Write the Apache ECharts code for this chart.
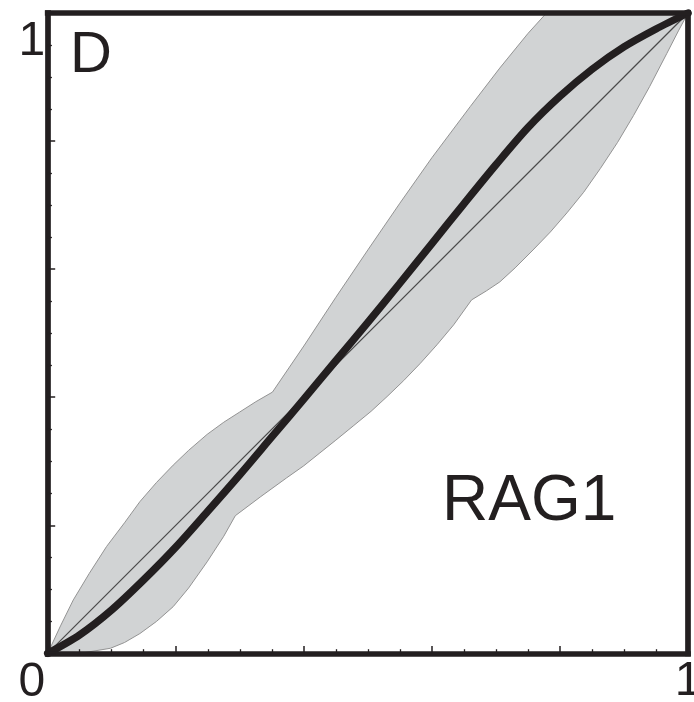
<!DOCTYPE html>
<html>
<head>
<meta charset="utf-8">
<script src="https://cdn.jsdelivr.net/npm/echarts@6/dist/echarts.min.js"></script>
<style>
html,body{margin:0;padding:0;background:#fff;}
#chart{width:694px;height:702px;}
</style>
</head>
<body>
<div id="chart"></div>
<script>
// Tick labels (one per major tick, 0..1 step 0.2)
const xTickLabels = ['', '', '', '', '', '1'];
const yTickLabels = ['0', '', '', '', '', '1'];

// Thick fitted curve
const curveX = [0, 0.05, 0.10, 0.15, 0.20, 0.25, 0.30, 0.35, 0.40, 0.45, 0.50, 0.55, 0.60, 0.65, 0.70, 0.75, 0.80, 0.85, 0.90, 0.95, 1.0];
const curveY = [0, 0.029, 0.068, 0.115, 0.166, 0.222, 0.279, 0.338, 0.397, 0.457, 0.517, 0.578, 0.640, 0.702, 0.763, 0.821, 0.870, 0.912, 0.947, 0.975, 1.0];

// Reference diagonal
const diagX = [0, 1];
const diagY = [0, 1];

// Confidence band: upper boundary
const upperX = [0, 0.02, 0.04, 0.065, 0.092, 0.12, 0.144, 0.17, 0.196, 0.22, 0.249, 0.275, 0.30, 0.325, 0.351, 0.40, 0.45, 0.50, 0.55, 0.60, 0.66, 0.706, 0.75, 0.779, 1.0];
const upperY = [0, 0.043, 0.0835, 0.125, 0.167, 0.204, 0.237, 0.267, 0.294, 0.317, 0.342, 0.361, 0.377, 0.393, 0.408, 0.480, 0.556, 0.630, 0.703, 0.774, 0.854, 0.914, 0.968, 1.0, 1.0];
// Confidence band: lower boundary
const lowerX = [0, 0.05, 0.098, 0.12, 0.144, 0.17, 0.196, 0.22, 0.249, 0.275, 0.293, 0.333, 0.373, 0.40, 0.425, 0.45, 0.477, 0.505, 0.53, 0.556, 0.582, 0.608, 0.634, 0.662, 0.685, 0.706, 0.73, 0.758, 0.785, 0.811, 0.837, 0.863, 0.89, 0.915, 0.94, 0.967, 0.985, 1.0];
const lowerY = [0, 0.0, 0.008, 0.017, 0.031, 0.050, 0.073, 0.102, 0.143, 0.183, 0.215, 0.245, 0.274, 0.293, 0.313, 0.333, 0.355, 0.378, 0.401, 0.426, 0.453, 0.482, 0.513, 0.552, 0.566, 0.580, 0.602, 0.630, 0.658, 0.688, 0.720, 0.757, 0.798, 0.840, 0.885, 0.937, 0.972, 1.0];

const INK = '#231f20';
const FONT = '"Liberation Sans", Arial, Helvetica, sans-serif';

const zip = (xs, ys) => xs.map((x, i) => [x, ys[i]]);

const chart = echarts.init(document.getElementById('chart'), null, {renderer: 'canvas'});

const frameLine = {show: true, onZero: false, lineStyle: {color: INK, width: 5.7, cap: 'square'}};

chart.setOption({
  animation: false,
  backgroundColor: '#ffffff',
  grid: {left: 47.7, top: 13, width: 640.3, height: 640.4, containLabel: false, outerBoundsMode: 'none'},
  xAxis: [{
    type: 'value', min: 0, max: 1, interval: 0.2, position: 'bottom', z: 10,
    axisLine: frameLine,
    axisTick: {show: true, inside: true, length: 7.5, lineStyle: {color: INK, width: 1.5}},
    minorTick: {show: true, splitNumber: 4, length: 4.2, lineStyle: {color: INK, width: 1.3}},
    splitLine: {show: false},
    axisLabel: {
      show: true, margin: 4, fontSize: 48, fontFamily: FONT, color: INK,
      verticalAlign: 'top', align: 'center',
      formatter: (v) => xTickLabels[Math.round(v / 0.2)] || ''
    }
  }, {
    type: 'value', min: 0, max: 1, position: 'top', z: 10,
    axisLine: frameLine, axisTick: {show: false}, axisLabel: {show: false}, splitLine: {show: false}
  }],
  yAxis: [{
    type: 'value', min: 0, max: 1, interval: 0.2, position: 'left', z: 10,
    axisLine: frameLine,
    axisTick: {show: true, inside: true, length: 7.5, lineStyle: {color: INK, width: 1.5}},
    minorTick: {show: true, splitNumber: 4, length: 4.2, lineStyle: {color: INK, width: 1.3}},
    splitLine: {show: false},
    axisLabel: {
      show: true, margin: 2.5, fontSize: 48, fontFamily: FONT, color: INK,
      verticalAlign: 'top', align: 'right', lineHeight: 58,
      formatter: (v) => yTickLabels[Math.round(v / 0.2)] || ''
    }
  }, {
    type: 'value', min: 0, max: 1, position: 'right', z: 10,
    axisLine: frameLine, axisTick: {show: false}, axisLabel: {show: false}, splitLine: {show: false}
  }],
  series: [
    {
      type: 'custom',
      z: 1,
      clip: true,
      silent: true,
      data: [[0, 0]],
      renderItem: function (params, api) {
        const up = zip(upperX, upperY).map(p => api.coord(p));
        const lo = zip(lowerX, lowerY).map(p => api.coord(p)).reverse();
        return {
          type: 'polygon',
          shape: {points: up.concat(lo)},
          style: {fill: '#d1d3d4', stroke: '#939393', lineWidth: 1, lineJoin: 'round'}
        };
      }
    },
    {
      type: 'line', z: 2, data: zip(diagX, diagY), showSymbol: false, symbol: 'none',
      lineStyle: {color: '#4a4a4a', width: 1.2}
    },
    {
      type: 'line', z: 3, data: zip(curveX, curveY), showSymbol: false, symbol: 'none',
      smooth: 0.3,
      lineStyle: {color: INK, width: 7.5, cap: 'round'}
    }
  ],
  graphic: [
    {type: 'text', x: 70, y: 56, z: 20,
      style: {text: 'D', font: '58px ' + FONT, fill: INK, align: 'left', verticalAlign: 'middle'}},
    {type: 'text', x: 442, y: 502, z: 20,
      style: {text: 'RAG1', font: '64px ' + FONT, fill: INK, align: 'left', verticalAlign: 'middle'}}
  ]
});
</script>
</body>
</html>
